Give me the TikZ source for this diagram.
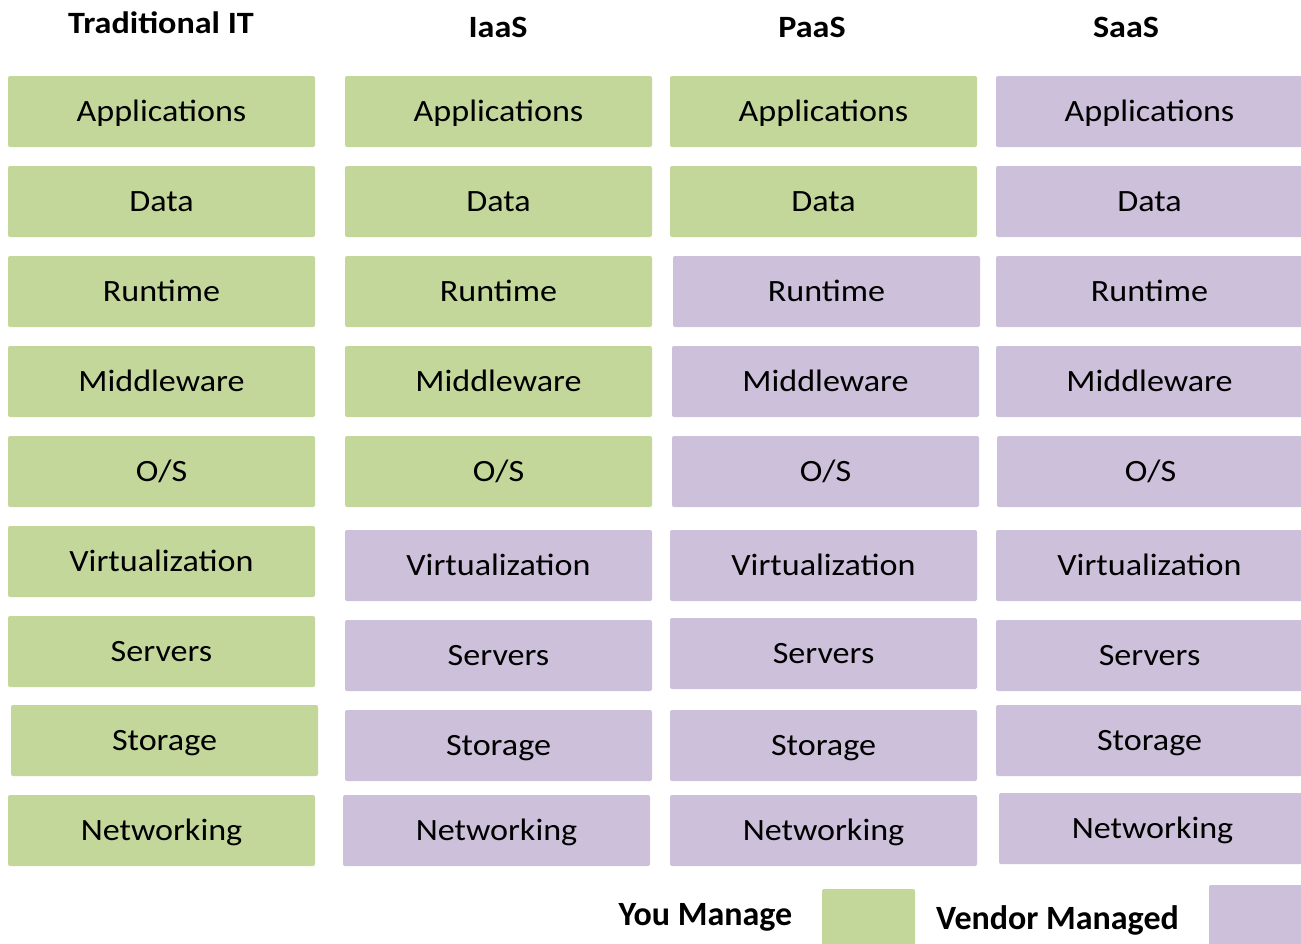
\documentclass[tikz,border=0pt]{standalone}
\usepackage{fontspec}
\setmainfont{Carlito}
\newfontfamily\cellfont[FakeStretch=1.1]{Carlito}
\newfontfamily\headfont[FakeStretch=1.1]{Carlito}
\definecolor{mgreen}{HTML}{C4D79B}
\definecolor{mpurple}{HTML}{CCC0DA}
\begin{document}
\begin{tikzpicture}[x=1pt,y=-1pt,
  cell/.style={rectangle, rounded corners=2pt, minimum width=307pt, minimum height=71pt, inner sep=0pt, text height=20pt, text depth=0pt, font=\cellfont\fontsize{31}{32}\selectfont, text=black},
  gcell/.style={cell, fill=mgreen},
  pcell/.style={cell, fill=mpurple},
  head/.style={font=\headfont\fontsize{31}{32}\selectfont\bfseries, inner sep=0pt, anchor=base},
  legtext/.style={font=\fontsize{34}{36}\selectfont\bfseries, inner sep=0pt, anchor=base}]
\useasboundingbox (0,0) rectangle (1301,943);
% headers
\node[head] (h1) at (161,33) {Traditional IT};
\node[head] (h2) at (498,37) {IaaS};
\node[head] (h3) at (812,37) {PaaS};
\node[head] (h4) at (1126,37) {SaaS};
% column 1
\node[gcell] (a1) at (161.5,111.5) {Applications};
\node[gcell] (b1) at (161.5,201.5) {Data};
\node[gcell] (c1) at (161.5,291.5) {Runtime};
\node[gcell] (d1) at (161.5,381.5) {Middleware};
\node[gcell] (e1) at (161.5,471.5) {O/S};
\node[gcell] (f1) at (161.5,561.5) {Virtualization};
\node[gcell] (g1) at (161.5,651.5) {Servers};
\node[gcell] (s1) at (164.5,740.5) {Storage};
\node[gcell] (n1) at (161.5,830.5) {Networking};
% column 2
\node[gcell] (a2) at (498.5,111.5) {Applications};
\node[gcell] (b2) at (498.5,201.5) {Data};
\node[gcell] (c2) at (498.5,291.5) {Runtime};
\node[gcell] (d2) at (498.5,381.5) {Middleware};
\node[gcell] (e2) at (498.5,471.5) {O/S};
\node[pcell] (f2) at (498.5,565.5) {Virtualization};
\node[pcell] (g2) at (498.5,655.5) {Servers};
\node[pcell] (s2) at (498.5,745.5) {Storage};
\node[pcell] (n2) at (496.5,830.5) {Networking};
% column 3
\node[gcell] (a3) at (823.5,111.5) {Applications};
\node[gcell] (b3) at (823.5,201.5) {Data};
\node[pcell] (c3) at (826.5,291.5) {Runtime};
\node[pcell] (d3) at (825.5,381.5) {Middleware};
\node[pcell] (e3) at (825.5,471.5) {O/S};
\node[pcell] (f3) at (823.5,565.5) {Virtualization};
\node[pcell] (g3) at (823.5,653.5) {Servers};
\node[pcell] (s3) at (823.5,745.5) {Storage};
\node[pcell] (n3) at (823.5,830.5) {Networking};
% column 4
\node[pcell] (a4) at (1149.5,111.5) {Applications};
\node[pcell] (b4) at (1149.5,201.5) {Data};
\node[pcell] (c4) at (1149.5,291.5) {Runtime};
\node[pcell] (d4) at (1149.5,381.5) {Middleware};
\node[pcell] (e4) at (1150.5,471.5) {O/S};
\node[pcell] (f4) at (1149.5,565.5) {Virtualization};
\node[pcell] (g4) at (1149.5,655.5) {Servers};
\node[pcell] (s4) at (1149.5,740.5) {Storage};
\node[pcell] (n4) at (1152.5,828.5) {Networking};
% legend
\node[legtext] (ly) at (705.5,925) {You Manage};
\fill[mgreen, rounded corners=2pt] (822,889) rectangle (915,946);
\node[legtext] (lv) at (1057.5,929) {Vendor Managed};
\fill[mpurple, rounded corners=2pt] (1209,885) rectangle (1304,946);
\end{tikzpicture}
\end{document}
